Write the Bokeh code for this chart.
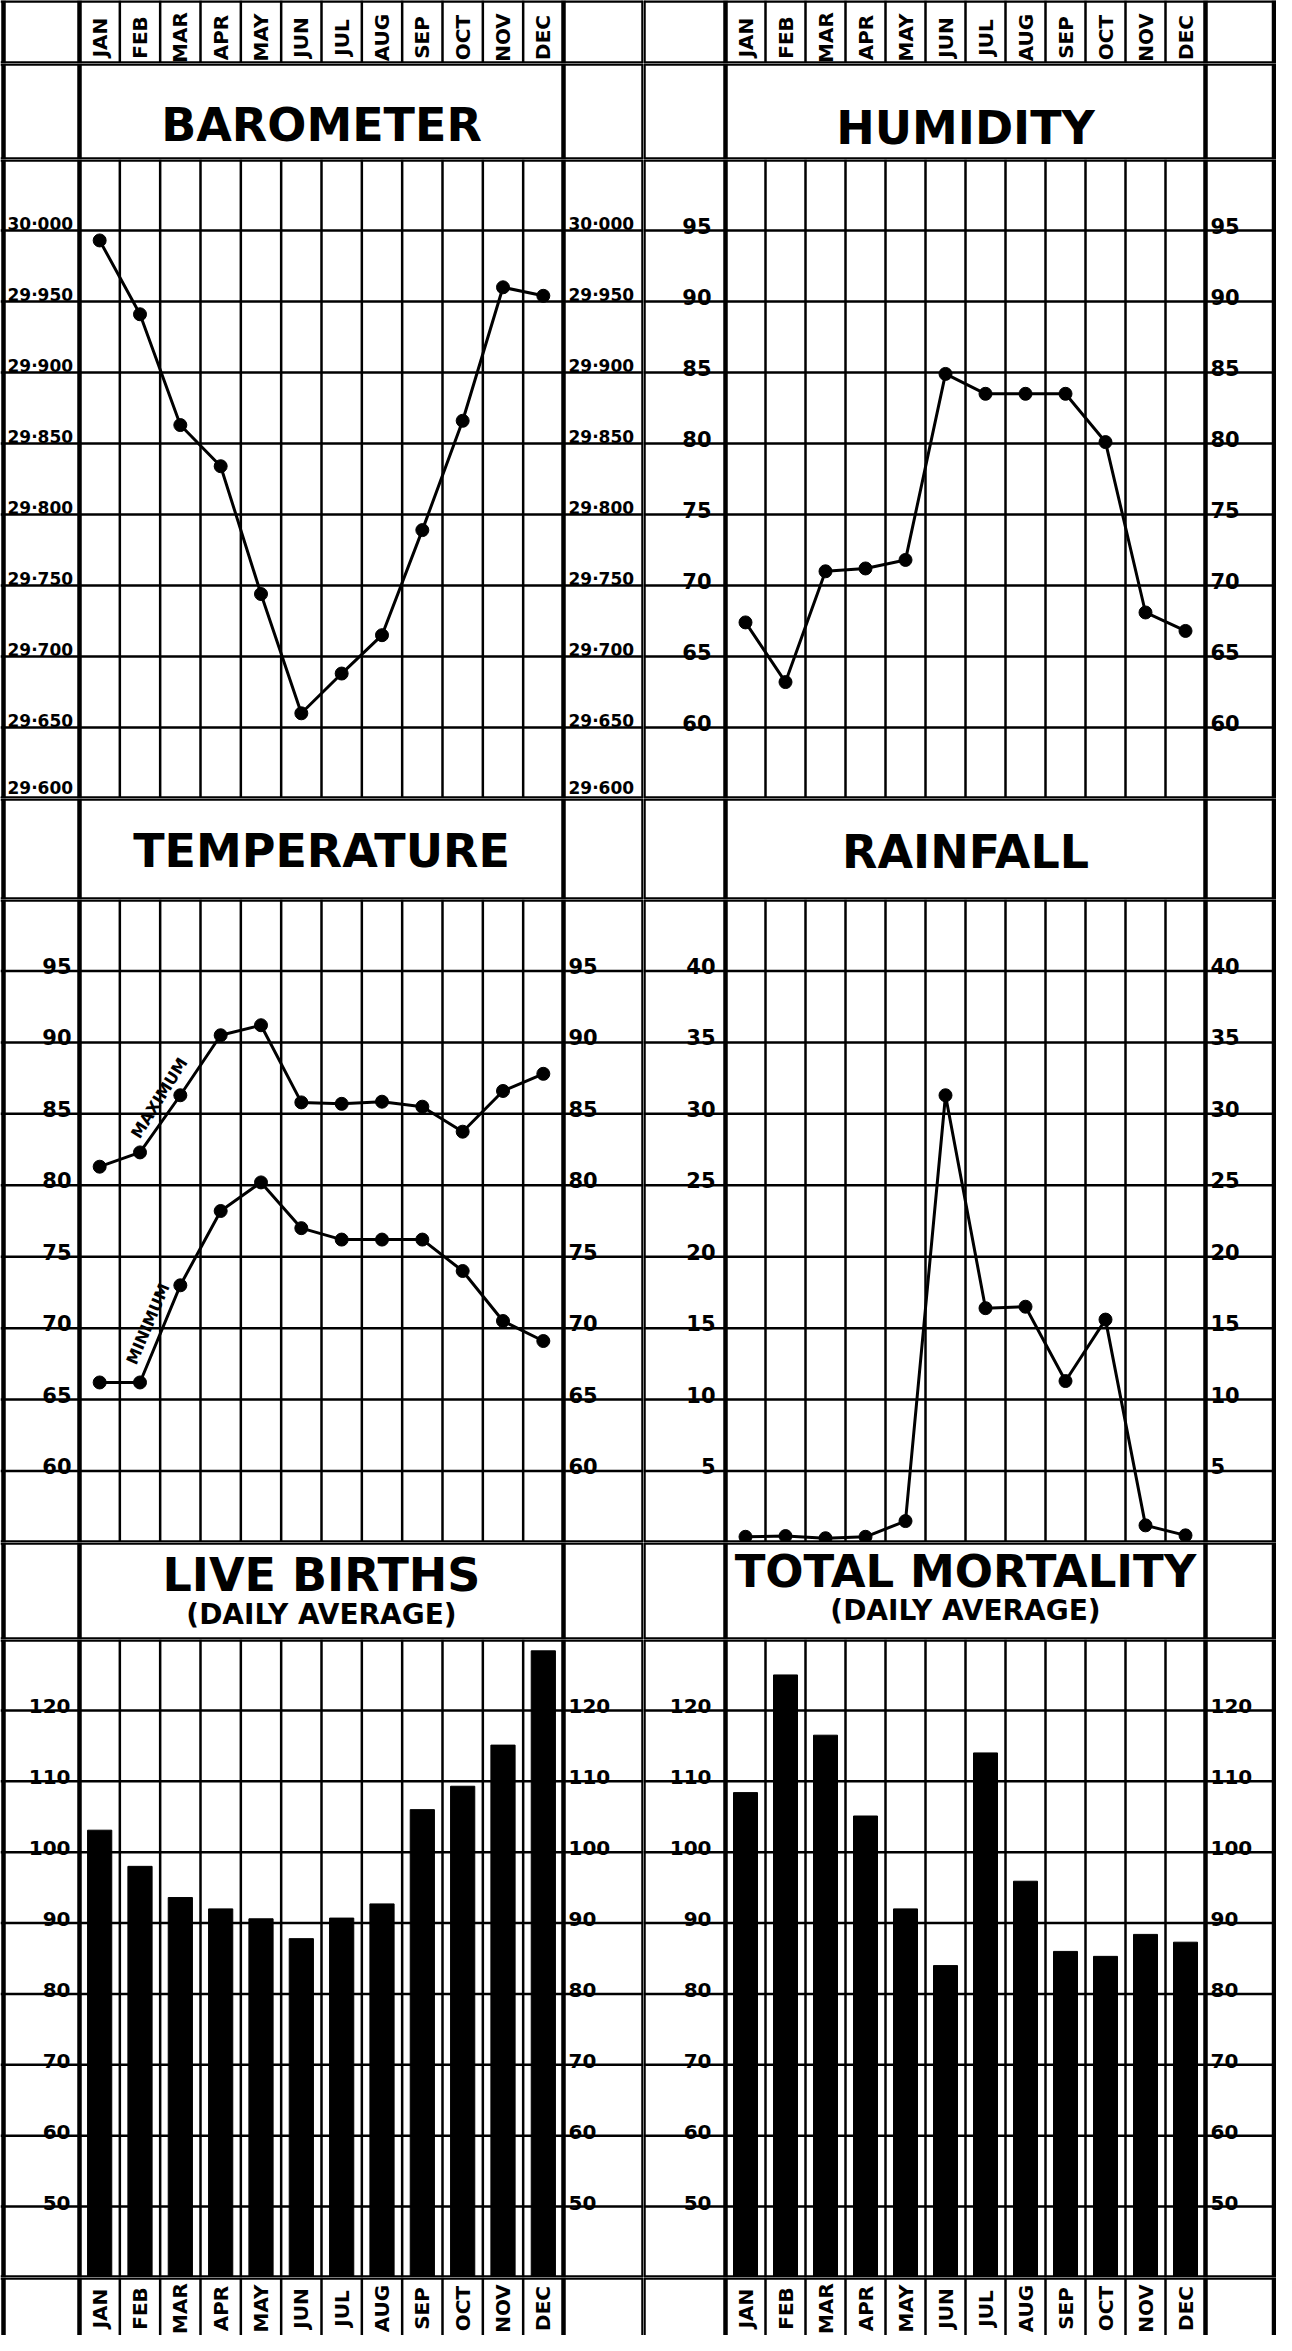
import math
from bokeh.plotting import figure
from bokeh.models import Range1d, Span
from bokeh.layouts import row, column
from bokeh.embed import file_html
from bokeh.resources import INLINE
from bokeh.core.properties import value

# ---------------- data ----------------
MONTHS = ["JAN", "FEB", "MAR", "APR", "MAY", "JUN", "JUL", "AUG", "SEP", "OCT", "NOV", "DEC"]
MONTH_POS = [1, 2, 3, 4, 5, 6, 7, 8, 9, 10, 11, 12]

BAROMETER = [29.993, 29.941, 29.863, 29.834, 29.744, 29.660, 29.688, 29.715, 29.789, 29.866, 29.960, 29.954]
HUMIDITY = [67.4, 63.2, 71.0, 71.2, 71.8, 84.9, 83.5, 83.5, 83.5, 80.1, 68.1, 66.8]
TEMP_MAX = [81.3, 82.3, 86.3, 90.5, 91.2, 85.8, 85.7, 85.85, 85.5, 83.75, 86.6, 87.8]
TEMP_MIN = [66.2, 66.2, 73.0, 78.2, 80.2, 77.0, 76.2, 76.2, 76.2, 74.0, 70.5, 69.1]
RAINFALL = [0.4, 0.45, 0.3, 0.4, 1.5, 31.3, 16.4, 16.5, 11.3, 15.6, 1.2, 0.5]
LIVE_BIRTHS = [103.1, 98.0, 93.6, 92.0, 90.6, 87.8, 90.7, 92.7, 106.0, 109.3, 115.1, 128.4]
MORTALITY = [108.4, 125.0, 116.5, 105.1, 92.0, 84.0, 114.0, 95.9, 86.0, 85.3, 88.4, 87.3]

BARO_TICKS = [30.000, 29.950, 29.900, 29.850, 29.800, 29.750, 29.700, 29.650, 29.600]
BARO_LABELS = ["30·000", "29·950", "29·900", "29·850", "29·800", "29·750", "29·700", "29·650", "29·600"]
HUM_TICKS = [95, 90, 85, 80, 75, 70, 65, 60]
TEMP_TICKS = [95, 90, 85, 80, 75, 70, 65, 60]
RAIN_TICKS = [40, 35, 30, 25, 20, 15, 10, 5]
BIRTH_TICKS = [120, 110, 100, 90, 80, 70, 60, 50]
MORT_TICKS = [120, 110, 100, 90, 80, 70, 60, 50]

BARO_RANGE = (29.600, 30.050)
HUM_RANGE = (55, 100)
TEMP_RANGE = (55, 100)
RAIN_RANGE = (0, 45)
BIRTH_RANGE = (40, 130)
MORT_RANGE = (40, 130)

# ---------------- layout (pixels) ----------------
SIDES = {"left": (643, 79, 484), "right": (633, 82, 480)}   # width, label column, month area
BAND_H = [63, 96, 639, 101, 643, 97, 638, 58]
THICK = 4.5
THIN = 2.5
FONT = value("DejaVu Sans")


def vline(p, x, w):
    p.add_layout(Span(location=x, dimension="height", line_color="black", line_width=w, level="underlay"))


def hline(p, y, w):
    p.add_layout(Span(location=y, dimension="width", line_color="black", line_width=w, level="underlay"))


def base_fig(side, h, y0, y1, month_lines, bottom_line=True):
    W, LAB, MON = SIDES[side]
    ppu = MON / 12.0
    xs = 0.5 - LAB / ppu
    xe = 12.5 + (W - LAB - MON) / ppu
    p = figure(width=W, height=h, x_range=Range1d(xs, xe), y_range=Range1d(y0, y1),
               x_axis_type=None, y_axis_type=None, toolbar_location=None, tools="",
               output_backend="svg", min_border=0, outline_line_color=None,
               background_fill_color="white", border_fill_color="white")
    if side == "left":
        vline(p, xs + 3.0 / ppu, THICK)
        vline(p, xe, THICK)
    else:
        vline(p, xs, THICK)
        vline(p, xe - 2.5 / ppu, THICK)
    vline(p, 0.5, THICK)
    vline(p, 12.5, THICK)
    if month_lines:
        for k in range(1, 12):
            vline(p, k + 0.5, THIN)
    if bottom_line:
        hline(p, y0, THICK)
    hline(p, y1, THICK)
    return p


def month_band(side, h, ymid, bottom_line=True):
    p = base_fig(side, h, 0, h, True, bottom_line)
    p.text(x=MONTH_POS, y=[ymid] * 12, text=MONTHS, angle=math.pi / 2,
           text_align="center", text_baseline="middle", text_font=FONT,
           text_font_size="20px", text_font_style="bold", text_color="black")
    return p


def title_band(side, h, lines):
    p = base_fig(side, h, 0, h, False)
    for txt, y, size in lines:
        p.text(x=[6.5], y=[y], text=[txt], text_align="center", text_baseline="middle",
               text_font=FONT, text_font_size=size, text_font_style="bold", text_color="black")
    return p


def plot_band(side, h, rng, ticks, labels, left_mode, left_off, size):
    p = base_fig(side, h, rng[0], rng[1], True)
    for t in ticks:
        hline(p, t, THIN)
    n = len(ticks)
    offs = [(-1 if t == rng[0] else 3) for t in ticks]
    common = dict(y=ticks, text=labels, y_offset=offs, text_baseline="bottom", text_font=FONT,
                  text_font_size=size, text_font_style="bold", text_color="black")
    if left_mode == "border":
        p.text(x=[p.x_range.start] * n, x_offset=7, text_align="left", **common)
    else:
        p.text(x=[0.5] * n, x_offset=left_off, text_align="right", **common)
    p.text(x=[12.5] * n, x_offset=5, text_align="left", **common)
    return p


def line_series(p, ys):
    p.line(MONTH_POS, ys, line_width=3, line_color="black")
    p.scatter(MONTH_POS, ys, size=13, marker="circle", fill_color="black", line_color="black")


# ---------------- left column ----------------
L = []
L.append(month_band("left", BAND_H[0], 26))
L.append(title_band("left", BAND_H[1], [("BAROMETER", 35, "46px")]))
pb = plot_band("left", BAND_H[2], BARO_RANGE, BARO_TICKS, BARO_LABELS, "border", 0, "17px")
line_series(pb, BAROMETER)
L.append(pb)
L.append(title_band("left", BAND_H[3], [("TEMPERATURE", 49, "46px")]))
pt = plot_band("left", BAND_H[4], TEMP_RANGE, TEMP_TICKS, [str(t) for t in TEMP_TICKS], "inner", -8, "21px")
line_series(pt, TEMP_MAX)
line_series(pt, TEMP_MIN)
pt.text(x=[2.48], y=[86.1], text=["MAXIMUM"], angle=math.radians(58), text_align="center",
        text_baseline="middle", text_font=FONT, text_font_size="16px", text_font_style="bold",
        text_color="black")
pt.text(x=[2.2], y=[70.3], text=["MINIMUM"], angle=math.radians(67), text_align="center",
        text_baseline="middle", text_font=FONT, text_font_size="16px", text_font_style="bold",
        text_color="black")
L.append(pt)
L.append(title_band("left", BAND_H[5], [("LIVE BIRTHS", 65, "46px"), ("(DAILY AVERAGE)", 25, "28px")]))
pl = plot_band("left", BAND_H[6], BIRTH_RANGE, BIRTH_TICKS, [str(t) for t in BIRTH_TICKS], "inner", -9, "20px")
pl.vbar(x=MONTH_POS, top=LIVE_BIRTHS, bottom=BIRTH_RANGE[0], width=0.6, fill_color="black", line_color="black")
L.append(pl)
L.append(month_band("left", BAND_H[7], 27, bottom_line=False))

# ---------------- right column ----------------
R = []
R.append(month_band("right", BAND_H[0], 26))
R.append(title_band("right", BAND_H[1], [("HUMIDITY", 32, "46px")]))
ph = plot_band("right", BAND_H[2], HUM_RANGE, HUM_TICKS, [str(t) for t in HUM_TICKS], "inner", -14, "21px")
line_series(ph, HUMIDITY)
R.append(ph)
R.append(title_band("right", BAND_H[3], [("RAINFALL", 48, "46px")]))
pr = plot_band("right", BAND_H[4], RAIN_RANGE, RAIN_TICKS, [str(t) for t in RAIN_TICKS], "inner", -10, "21px")
line_series(pr, RAINFALL)
R.append(pr)
R.append(title_band("right", BAND_H[5], [("TOTAL MORTALITY", 68, "45px"), ("(DAILY AVERAGE)", 29, "28px")]))
pm = plot_band("right", BAND_H[6], MORT_RANGE, MORT_TICKS, [str(t) for t in MORT_TICKS], "inner", -14, "20px")
pm.vbar(x=MONTH_POS, top=MORTALITY, bottom=MORT_RANGE[0], width=0.6, fill_color="black", line_color="black")
R.append(pm)
R.append(month_band("right", BAND_H[7], 27, bottom_line=False))

layout = row(column(*L, spacing=0), column(*R, spacing=0), spacing=0)

open("out.html", "w").write(file_html(layout, INLINE))
